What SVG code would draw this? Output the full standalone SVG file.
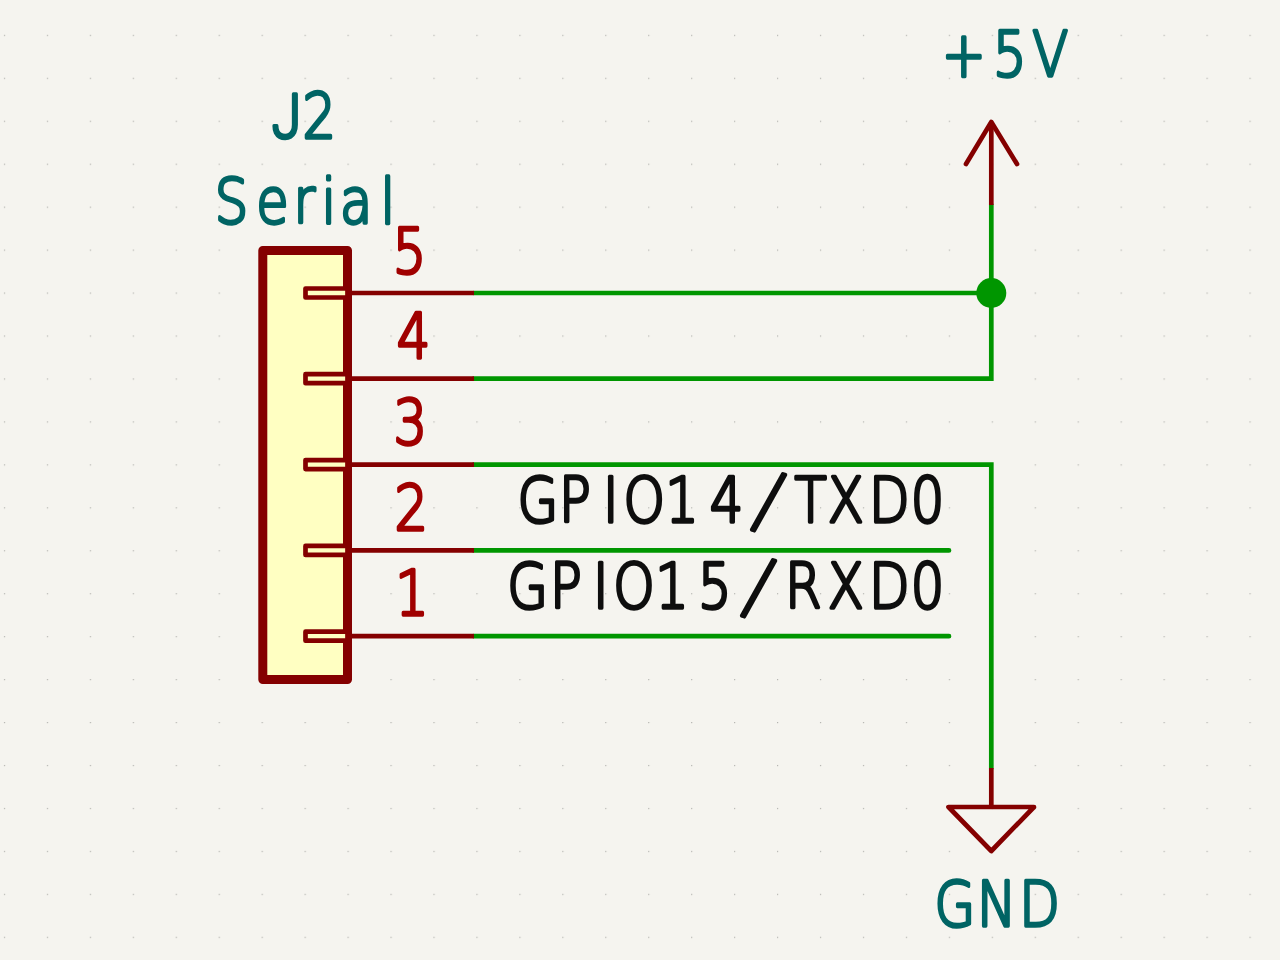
<svg xmlns="http://www.w3.org/2000/svg" width="1280" height="960" viewBox="0 0 1280 960">
<style>
text{font-family:"DejaVu Sans",sans-serif;font-size:62px;font-weight:200;stroke-width:3.4px;stroke-linejoin:round;paint-order:stroke}
.slash{font-size:78px}
.teal{fill:#006464;stroke:#006464}
.red{fill:#a00000;stroke:#a00000}
.blk{fill:#0e0e0e;stroke:#0e0e0e}
.sym{fill:none;stroke:#840000;stroke-width:4.7;stroke-linejoin:round;stroke-linecap:round}
.butt{stroke-linecap:butt}
.body{fill:#ffffc2;stroke:#840000;stroke-width:9;stroke-linejoin:round}
.pin{fill:#ffffc2;stroke:#840000;stroke-width:4.7;stroke-linejoin:round}
.wire{fill:none;stroke:#009600;stroke-width:4.7;stroke-linejoin:miter;stroke-linecap:round}
</style>
<defs>
<pattern id="grid" x="3.9" y="34.8" width="42.95" height="42.95" patternUnits="userSpaceOnUse"><rect x="0" y="0" width="1.2" height="1.2" fill="#b4b4b0"/></pattern>
</defs>
<rect width="1280" height="960" fill="#f5f4ef"/>
<rect width="1280" height="960" fill="url(#grid)"/>
<g id="connectors">
<path class="wire" d="M474 293H991M474 378.7H991.3V205M474 464.6H991.3V768M474 550.4H949M474 636.2H949"/>
</g>
<g id="J2">
<rect class="body" x="262.8" y="250.5" width="84.7" height="429"/>
<g id="J2-pins">
<rect class="pin" x="305.5" y="288.5" width="42" height="9"/>
<rect class="pin" x="305.5" y="374.2" width="42" height="9"/>
<rect class="pin" x="305.5" y="460.1" width="42" height="9"/>
<rect class="pin" x="305.5" y="545.9" width="42" height="9"/>
<rect class="pin" x="305.5" y="631.7" width="42" height="9"/>
<path class="sym butt" d="M347 293H474M347 378.7H474M347 464.6H474M347 550.4H474M347 636.2H474"/>
</g>
<g transform="scale(.85 1)">
<text class="teal" y="138.5"><tspan x="320" style="font-family:Roboto,sans-serif;font-weight:300">J</tspan><tspan x="356">2</tspan></text>
<text class="teal" x="252.7 301.6 345.3 378.2 400.1 447.6" y="223.5">Serial</text>
<text class="red" x="462.2" y="273.5">5</text>
<text class="red" x="466.7" y="358.5">4</text>
<text class="red" x="463" y="444.5">3</text>
<text class="red" x="464.2" y="530.5">2</text>
<text class="red" x="465" y="615.5">1</text>
</g>
</g>
<g id="label-txd0" transform="scale(.85 1)"><text class="blk" y="522.5"><tspan x="608.7 657.6 709.4 733.4 782.7 834.9">GPIO14</tspan><tspan class="slash" x="884.7" rotate="16">/</tspan><tspan x="934.7 973.9 1022.4 1071.5">TXD0</tspan></text></g>
<g id="label-rxd0" transform="scale(.85 1)"><text class="blk" y="608.5"><tspan x="596.9 647.1 697.6 721.6 770.9 821.1">GPIO15</tspan><tspan class="slash" x="873" rotate="16">/</tspan><tspan x="923.5 973.9 1022.4 1071.5">RXD0</tspan></text></g>
<g id="power-5v">
<path class="sym butt" d="M991.3 205V122"/>
<path class="sym" d="M966 164L991.3 122L1017 164"/>
<text class="teal" transform="scale(.85 1)" x="1108.1 1168.1 1214.5" y="76.5">+5V</text>
</g>
<g id="power-gnd">
<path class="sym butt" d="M991.3 768V807"/>
<path class="sym" d="M948.5 807H1034L991.3 851Z"/>
<text class="teal" transform="scale(.85 1)" x="1099.3 1149.4 1199" y="926.5">GND</text>
</g>
<g id="junction"><circle cx="991.3" cy="293" r="15" fill="#009600"/></g>
</svg>
